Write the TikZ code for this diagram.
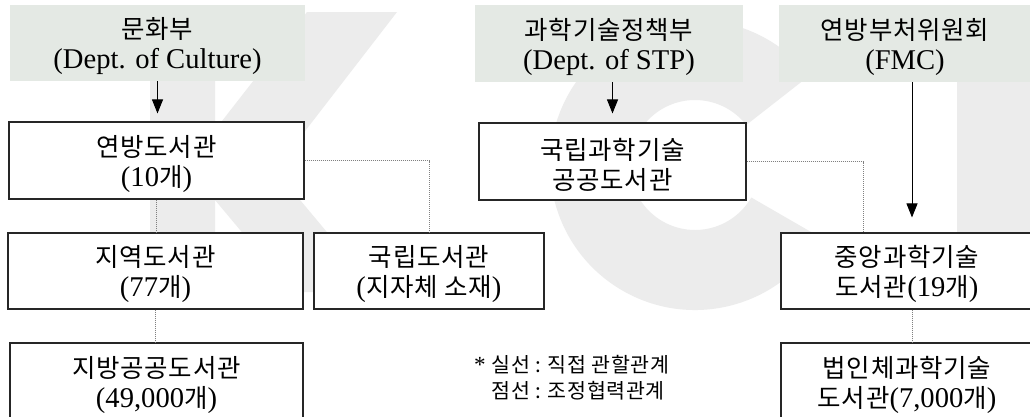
\documentclass[tikz,border=0pt]{standalone}
\usepackage{fontspec}
\setmainfont[Scale=1.1]{Liberation Serif}
\newfontfamily\cjk[Scale=0.98,LetterSpace=3]{Noto Sans CJK KR}
\usetikzlibrary{arrows.meta,calc}
\definecolor{hdrfill}{RGB}{228,233,228}
\definecolor{wm}{RGB}{236,236,236}
\newcommand\ko[1]{{\cjk #1}}
\newcommand\topstrut{\rule{0pt}{28pt}}
\begin{document}
\begin{tikzpicture}[x=1pt,y=-1pt,font=\fontsize{26}{30}\selectfont,
  hdr/.style={fill=hdrfill,draw=none,align=center,inner sep=0pt},
  box/.style={draw=black!85,line width=1.1pt,fill=white,align=center,inner sep=0pt},
  arr/.style={line width=0.9pt,-{Triangle[width=11pt,length=14pt]}},
  dotln/.style={draw=gray,line width=0.8pt,dash pattern=on 0.8pt off 1.2pt}]
\useasboundingbox (0,0) rectangle (1030,416);
\fill[white] (0,0) rectangle (1030,416);
\clip (0,0) rectangle (1030,416);
% watermark
\fill[wm] (150,12) -- (215,12) -- (215,130) -- (307,12) -- (397,12) -- (275,170)
  -- (377,292) -- (292,292) -- (215,200) -- (215,300) -- (150,300) -- cycle;
\fill[wm] (695,165) ++(30:145) arc[start angle=30,end angle=322,radius=145]
  -- ($(695,165)+(322:65)$) arc[start angle=322,end angle=30,radius=65] -- cycle;
\fill[wm] (957,10) rectangle (1030,310);
% header boxes
\node[hdr,minimum width=295pt,minimum height=76pt] (g1) at (157.5,43) {\topstrut\ko{문화부}\\(Dept. of Culture)};
\node[hdr,minimum width=268pt,minimum height=77pt] (g2) at (609,43.5) {\topstrut\ko{과학기술정책부}\\(Dept. of STP)};
\node[hdr,minimum width=252pt,minimum height=77pt] (g3) at (905,43.5) {\topstrut\ko{연방부처위원회}\\(FMC)};
% boxes
\node[box,minimum width=295pt,minimum height=77pt] (fed) at (156.5,160.5) {\topstrut\ko{연방도서관}\\(10\ko{개})};
\node[box,minimum width=267pt,minimum height=77pt] (nst) at (612.5,161.5) {\topstrut\ko{국립과학기술}\\\ko{공공도서관}};
\node[box,minimum width=295pt,minimum height=76pt] (reg) at (155.5,271) {\topstrut\ko{지역도서관}\\(77\ko{개})};
\node[box,minimum width=230pt,minimum height=76pt] (nat) at (429,271) {\topstrut\ko{국립도서관}\\(\ko{지자체 소재})};
\node[box,minimum width=252pt,minimum height=76pt] (cen) at (907,271) {\topstrut\ko{중앙과학기술}\\\ko{도서관}(19\ko{개})};
\node[box,minimum width=293pt,minimum height=77pt] (loc) at (156.5,381.5) {\topstrut\ko{지방공공도서관}\\(49,000\ko{개})};
\node[box,minimum width=252pt,minimum height=77pt] (cor) at (907,381.5) {\topstrut\ko{법인체과학기술}\\\ko{도서관}(7,000\ko{개})};
% legend
\node[anchor=west,align=left,inner sep=0pt,font=\fontsize{21}{26}\selectfont] (leg) at (474,378)
  {* \ko{실선 : 직접 관할관계}\\\phantom{* }\ko{점선 : 조정협력관계}};
% connectors
\coordinate (a3) at (912,0);
\coordinate (d2) at (863,0);
\draw[arr,shorten >=8pt] (g1.south) -- (g1.south |- fed.north);
\draw[arr,shorten >=9pt] (nst.north |- g2.south) -- (nst.north);
\draw[arr,shorten >=15pt] (a3 |- g3.south) -- (a3 |- cen.north);
\draw[dotln] (fed.south) -- (fed.south |- reg.north);
\draw[dotln] (reg.south) -- (reg.south |- loc.north);
\draw[dotln] (fed.east) -| (nat.north);
\draw[dotln] (nst.east) -| (d2 |- cen.north);
\draw[dotln] (a3 |- cen.south) -- (a3 |- cor.north);
\end{tikzpicture}
\end{document}
